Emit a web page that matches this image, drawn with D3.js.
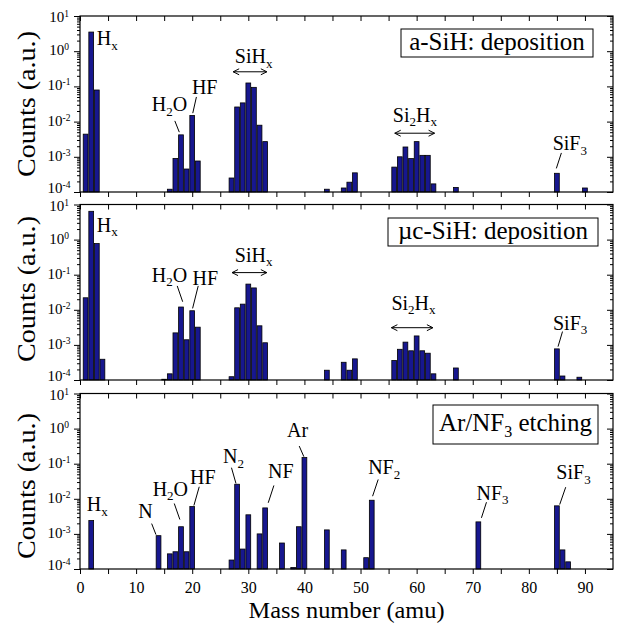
<!DOCTYPE html>
<html><head><meta charset="utf-8">
<script src="https://cdn.jsdelivr.net/npm/d3@7/dist/d3.min.js"></script>
<style>body{margin:0;background:#fff}svg text{font-family:"Liberation Serif","Times New Roman",serif;fill:#000}</style>
</head><body><svg id="c" width="623" height="626"></svg>
<script>
// ---------- data ----------
const massA  = [1,2,3,16,17,18,19,20,21,27,28,29,30,31,32,33,44,47,48,49,56,57,58,59,60,61,62,63,67,85,90];
const countA = [4.4e-3,3.5,7.9e-2,1.2e-4,9e-4,4.2e-3,4.5e-4,1.5e-2,7.6e-4,2.5e-4,2.6e-2,3.4e-2,0.125,0.094,7.9e-3,2.7e-3,1.2e-4,1.3e-4,1.9e-4,3.5e-4,5.1e-4,1.0e-3,1.9e-3,8.9e-4,2.7e-3,1.1e-3,1.1e-3,1.7e-4,1.35e-4,3.4e-4,1.3e-4];
const massB  = [1,2,3,4,15,16,17,18,19,20,21,27,28,29,30,31,32,33,44,47,48,49,56,57,58,59,60,61,62,63,67,85,86,89];
const countB = [0.022,6.4,0.77,3.9e-4,1.05e-4,1.5e-4,2.2e-3,1.2e-2,1.4e-3,9.4e-3,3.2e-3,1.24e-4,1.14e-2,1.45e-2,5.4e-2,4.2e-2,3.5e-3,1.15e-3,1.9e-4,3.2e-4,1.9e-4,4e-4,3.6e-4,7.5e-4,1.2e-3,6.8e-4,1.8e-3,6.8e-4,5.8e-4,1.5e-4,2.2e-4,7.7e-4,1.3e-4,1.2e-4];
const massC  = [2,14,16,17,18,19,20,27,28,29,30,32,33,36,38,39,40,44,47,51,52,71,85,86,87];
const countC = [2.4e-3,8.9e-4,2.7e-4,3.1e-4,1.6e-3,3.1e-4,6.0e-3,1.8e-4,2.6e-2,3.7e-4,3.5e-3,1.0e-3,5.5e-3,5.5e-4,1.1e-4,1.6e-3,0.15,1.3e-3,3.5e-4,2.1e-4,9.1e-3,2.2e-3,6.3e-3,3.5e-4,1.6e-4];

const xTicks = [0,10,20,30,40,50,60,70,80,90];
const xMinorTicks = [5,15,25,35,45,55,65,75,85];
const yExponents = [-4,-3,-2,-1,0,1];
const legendA = "a-SiH: deposition";
const legendB = "\u00b5c-SiH: deposition";
const legendC = "Ar/NF_3 etching";
const yTitle = "Counts (a.u.)";
const xTitle = "Mass number (amu)";

// annotations: text, mass at text start, log10 of baseline, optional leader line [m1,log1,m2,log2]
const labelsA = [
  {t:"H_x", m:3.0, ly:0.176},
  {t:"H_2O", m:12.8, ly:-1.70, line:[16.9,-1.98,17.7,-2.30]},
  {t:"HF", m:19.95, ly:-1.22, line:[20.75,-1.30,20.1,-1.76]},
  {t:"SiH_x", m:27.6, ly:-0.34},
  {t:"Si_2H_x", m:55.75, ly:-2.0},
  {t:"SiF_3", m:84.25, ly:-2.807, line:[85.8,-2.89,84.9,-3.33]}
];
const arrowsA = [[27.3,33.3,-0.585],[56.1,63.2,-2.33]];
const labelsB = [
  {t:"H_x", m:3.0, ly:0.225},
  {t:"H_2O", m:12.8, ly:-1.2, line:[17.33,-1.32,18.3,-1.77]},
  {t:"HF", m:20.07, ly:-1.29, line:[21.07,-1.32,20.07,-1.96]},
  {t:"SiH_x", m:27.6, ly:-0.63},
  {t:"Si_2H_x", m:55.5, ly:-2.0},
  {t:"SiF_3", m:84.3, ly:-2.575, line:[86.0,-2.62,85.2,-3.05]}
];
const arrowsB = [[27.1,33.3,-0.94],[55.5,62.9,-2.51]];
const labelsC = [
  {t:"H_x", m:1.19, ly:-2.354},
  {t:"N", m:10.4, ly:-2.543, line:[12.77,-2.706,13.54,-3.02]},
  {t:"H_2O", m:12.95, ly:-1.906, line:[16.8,-2.134,17.8,-2.591]},
  {t:"HF", m:19.6, ly:-1.571, line:[21.25,-1.657,20.3,-2.191]},
  {t:"N_2", m:25.5, ly:-0.991, line:[27.0,-1.114,27.8,-1.563]},
  {t:"NF", m:33.5, ly:-1.4, line:[34.56,-1.62,33.55,-2.114]},
  {t:"Ar", m:36.9, ly:-0.229, line:[39.07,-0.497,39.9,-0.8]},
  {t:"NF_2", m:51.36, ly:-1.306, line:[53.15,-1.449,52.15,-1.926]},
  {t:"NF_3", m:70.66, ly:-2.02, line:[72.45,-2.097,71.55,-2.543]},
  {t:"SiF_3", m:84.9, ly:-1.449, line:[86.57,-1.669,85.5,-2.163]}
];
const arrowsC = [];

// ---------- layout ----------
const svg = d3.select("#c");
const X0 = 80, X1 = 613;
const x = d3.scaleLinear().domain([0,95]).range([X0,X1]);
const BAR = "#17178f";

const defs = svg.append("defs");
defs.append("marker").attr("id","ah").attr("viewBox","-8 -5 10 10")
  .attr("markerWidth",10).attr("markerHeight",10).attr("refX",0).attr("refY",0)
  .attr("orient","auto-start-reverse").attr("markerUnits","userSpaceOnUse")
  .append("path").attr("d","M-6,-3 L0,0 L-6,3").attr("fill","none").attr("stroke","#000").attr("stroke-width",1);

function richText(sel, str, subSize, subDy){
  let i=0, pendingUp=false;
  while(i<str.length){
    if(str[i]==="_"){
      sel.append("tspan").attr("dy",subDy).attr("font-size",subSize).text(str[i+1]);
      pendingUp=true; i+=2;
    } else {
      let j=i; while(j<str.length && str[j]!=="_") j++;
      const ts = sel.append("tspan").text(str.slice(i,j));
      if(pendingUp){ ts.attr("dy",-subDy); pendingUp=false; }
      i=j;
    }
  }
}

const panels = [
  {mass:massA, count:countA, top:16,    bot:192, legend:legendA, box:[401,29,192,28],  labels:labelsA, arrows:arrowsA, yc:104},
  {mass:massB, count:countB, top:204.5, bot:380, legend:legendB, box:[388,218,210,28], labels:labelsB, arrows:arrowsB, yc:289},
  {mass:massC, count:countC, top:393.5, bot:569, legend:legendC, box:[433,405,165,39], labels:labelsC, arrows:arrowsC, yc:486}
];

panels.forEach((p,pi)=>{
  const y = d3.scaleLog().domain([1e-4,1e1]).range([p.bot,p.top]);
  const g = svg.append("g");
  const bw = x(0.85)-x(0);
  const rows = p.mass.map((m,j)=>({m, c:p.count[j]}));
  g.selectAll("rect.bar").data(rows).join("rect").attr("class","bar")
    .attr("x", d=>x(d.m)-bw/2).attr("width", bw)
    .attr("y", d=>y(d.c)).attr("height", d=>p.bot-y(d.c))
    .attr("fill", BAR).attr("stroke","#000").attr("stroke-width",0.8);

  const last = pi===panels.length-1;
  const axB = g.append("g").attr("transform",`translate(0,${p.bot})`)
    .call(d3.axisBottom(x).tickValues(xTicks.concat(xMinorTicks)).tickSize(5).tickPadding(8)
      .tickFormat(d=> (last && xTicks.includes(d)) ? d : ""));
  const axT = g.append("g").attr("transform",`translate(0,${p.top})`)
    .call(d3.axisTop(x).tickValues(xTicks.concat(xMinorTicks)).tickSize(-5).tickFormat(""));
  const minor = [];
  for(let e=-4;e<1;e++) for(let k=2;k<10;k++) minor.push(k*Math.pow(10,e));
  const majors = yExponents.map(e=>Math.pow(10,e));
  const axL = g.append("g").attr("transform",`translate(${X0},0)`)
    .call(d3.axisLeft(y).tickValues(minor).tickSize(3).tickFormat(""));
  const axL2 = g.append("g").attr("transform",`translate(${X0},0)`)
    .call(d3.axisLeft(y).tickValues(majors).tickSize(6).tickFormat(""));
  const axR = g.append("g").attr("transform",`translate(${X1},0)`)
    .call(d3.axisLeft(y).tickValues(minor).tickSize(3).tickFormat(""));
  const axR2 = g.append("g").attr("transform",`translate(${X1},0)`)
    .call(d3.axisLeft(y).tickValues(majors).tickSize(6).tickFormat(""));
  [axB,axT,axL,axL2,axR,axR2].forEach(a=>{
    a.selectAll(".domain").remove();
    a.selectAll("line").attr("stroke","#000").attr("stroke-width",1);
    a.selectAll("text").attr("font-size",16).attr("font-family",'"Liberation Serif",serif').attr("fill","#000");
  });
  axR.selectAll(".tick line").attr("x2",-3);
  axR2.selectAll(".tick line").attr("x2",-6);
  // y tick labels with superscripts (edge labels nudged so neighbouring panels do not collide)
  yExponents.forEach(e=>{
    const off = e===-4 ? 0.5 : (e===1 ? 6 : 4);
    const t = g.append("text").attr("x",59).attr("y",y(Math.pow(10,e))+off).attr("text-anchor","middle").attr("font-size",15);
    t.append("tspan").text("10");
    t.append("tspan").attr("dy",-5).attr("font-size",9.5).text(e<0 ? "-"+(-e) : String(e));
  });
  g.append("rect").attr("x",X0).attr("y",p.top).attr("width",X1-X0).attr("height",p.bot-p.top)
    .attr("fill","none").attr("stroke","#000").attr("stroke-width",1.2);

  g.append("text").attr("transform",`translate(35,${p.yc}) rotate(-90)`).attr("text-anchor","middle")
    .attr("font-size",26).attr("textLength",146).attr("lengthAdjust","spacingAndGlyphs").text(yTitle);

  const [bx,by,bwid,bh] = p.box;
  g.append("rect").attr("x",bx).attr("y",by).attr("width",bwid).attr("height",bh)
    .attr("fill","#fff").attr("stroke","#000").attr("stroke-width",1);
  const lt = g.append("text").attr("x",bx+bwid/2).attr("y",by+21+(bh>30?5:0)).attr("text-anchor","middle").attr("font-size",25);
  richText(lt, p.legend, 16, 6);

  p.labels.forEach(a=>{
    const t = g.append("text").attr("x",x(a.m)).attr("y",y(Math.pow(10,a.ly))).attr("font-size",20);
    richText(t, a.t, 13, 4.5);
    if(a.line){
      g.append("line").attr("x1",x(a.line[0])).attr("y1",y(Math.pow(10,a.line[1])))
        .attr("x2",x(a.line[2])).attr("y2",y(Math.pow(10,a.line[3])))
        .attr("stroke","#000").attr("stroke-width",1);
    }
  });
  p.arrows.forEach(a=>{
    g.append("line").attr("x1",x(a[0])).attr("x2",x(a[1])).attr("y1",y(Math.pow(10,a[2]))).attr("y2",y(Math.pow(10,a[2])))
      .attr("stroke","#000").attr("stroke-width",1).attr("marker-start","url(#ah)").attr("marker-end","url(#ah)");
  });
});

svg.append("text").attr("x",(X0+X1)/2).attr("y",618).attr("text-anchor","middle").attr("font-size",24)
  .attr("textLength",196).attr("lengthAdjust","spacingAndGlyphs").text(xTitle);
</script>
</body></html>
